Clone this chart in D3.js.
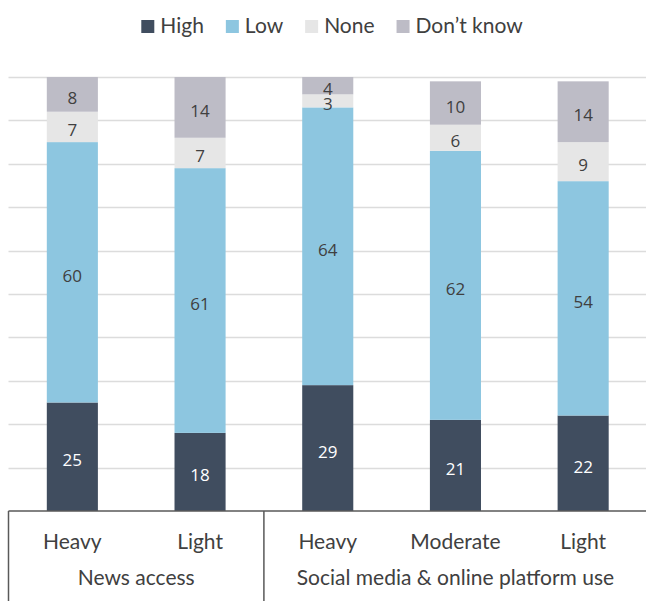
<!DOCTYPE html>
<html>
<head>
<meta charset="utf-8">
<script src="https://cdn.jsdelivr.net/npm/d3@7"></script>
<style>
  html, body { margin: 0; padding: 0; background: #fff; }
  svg { display: block; }
</style>
</head>
<body>
<svg id="chart" width="646" height="601"></svg>
<script>
// Categories along the x axis and the group each belongs to
const categories = ["Heavy", "Light", "Heavy ", "Moderate", "Light "];
const categoryLabels = ["Heavy", "Light", "Heavy", "Moderate", "Light"];
const groups = [
  { name: "News access", from: 0, to: 1 },
  { name: "Social media & online platform use", from: 2, to: 4 }
];

// Series values (percent), bottom to top of each stack
const seriesNames = ["High", "Low", "None", "Don\u2019t know"];
const high = [25, 18, 29, 21, 22];
const low = [60, 61, 64, 62, 54];
const none = [7, 7, 3, 6, 9];
const dontKnow = [8, 14, 4, 10, 14];
const gridTicks = [0, 10, 20, 30, 40, 50, 60, 70, 80, 90, 100];

const colors = ["#404d5f", "#8dc6e0", "#e6e6e6", "#bdbcc6"];
const labelColors = ["#ffffff", "#404040", "#404040", "#404040"];

const svg = d3.select("#chart");
const W = 646, H = 601;
const plot = { left: 8.5, right: 647, top: 77, bottom: 511 };

const rows = categories.map((c, i) => ({
  cat: c, High: high[i], Low: low[i], None: none[i], "Don\u2019t know": dontKnow[i]
}));
const stacked = d3.stack().keys(seriesNames)(rows);

const x = d3.scaleBand().domain(categories)
  .range([plot.left, plot.right]).paddingInner(0.6).paddingOuter(0.3);
const y = d3.scaleLinear().domain([0, 100]).range([plot.bottom, plot.top]);

// Horizontal gridlines
svg.append("g").selectAll("line").data(gridTicks.slice(1)).join("line")
  .attr("x1", plot.left).attr("x2", W)
  .attr("y1", d => Math.round(y(d)) + 0.5).attr("y2", d => Math.round(y(d)) + 0.5)
  .attr("stroke", "#dcdcdc").attr("stroke-width", 1.3);

// Stacked bars
const layers = svg.append("g").selectAll("g").data(stacked).join("g")
  .attr("fill", (d, i) => colors[i]);
layers.selectAll("rect").data(d => d).join("rect")
  .attr("x", d => x(d.data.cat))
  .attr("width", x.bandwidth())
  .attr("y", d => y(d[1]))
  .attr("height", d => y(d[0]) - y(d[1]));

// Value labels centred in each segment
const labelLayers = svg.append("g").selectAll("g").data(stacked).join("g")
  .attr("fill", (d, i) => labelColors[i]);
labelLayers.selectAll("text").data(d => d).join("text")
  .attr("x", d => x(d.data.cat) + x.bandwidth() / 2)
  .attr("y", d => (y(d[0]) + y(d[1])) / 2 + 3)
  .attr("text-anchor", "middle")
  .attr("dominant-baseline", "central")
  .attr("font-family", "'Open Sans', 'Noto Sans', sans-serif")
  .attr("font-size", 17)
  .text(d => d[1] - d[0]);

// Baseline axis
svg.append("line")
  .attr("x1", plot.left).attr("x2", W)
  .attr("y1", plot.bottom).attr("y2", plot.bottom)
  .attr("stroke", "#595959").attr("stroke-width", 1.5);

// Group separators below the axis
const step = x.step();
const boundaries = [plot.left, plot.left + 2 * step, plot.right];
svg.append("g").selectAll("line").data(boundaries).join("line")
  .attr("x1", d => d).attr("x2", d => d)
  .attr("y1", plot.bottom).attr("y2", H)
  .attr("stroke", "#595959").attr("stroke-width", 1.5);

// Category labels
svg.append("g").selectAll("text").data(categories).join("text")
  .attr("x", d => x(d) + x.bandwidth() / 2)
  .attr("y", 549)
  .attr("text-anchor", "middle")
  .attr("font-family", "Lato, sans-serif")
  .attr("font-size", 21)
  .attr("fill", "#404040")
  .text((d, i) => categoryLabels[i]);

// Group labels
svg.append("g").selectAll("text").data(groups).join("text")
  .attr("x", g => (x(categories[g.from]) + x(categories[g.to]) + x.bandwidth()) / 2)
  .attr("y", 585)
  .attr("text-anchor", "middle")
  .attr("font-family", "Lato, sans-serif")
  .attr("font-size", 21)
  .attr("fill", "#404040")
  .text(g => g.name);

// Legend
const legend = svg.append("g");
const items = legend.selectAll("g").data(seriesNames).join("g");
items.append("rect").attr("width", 13).attr("height", 13).attr("y", 20)
  .attr("fill", (d, i) => colors[i]);
items.append("text").attr("x", 19).attr("y", 33)
  .attr("font-family", "Lato, sans-serif").attr("font-size", 21)
  .attr("fill", "#404040").text(d => d);
let cx = 0;
const widths = [];
items.each(function () {
  const w = this.querySelector("text").getComputedTextLength();
  widths.push(19 + w);
});
const totalW = d3.sum(widths) + 22 * (widths.length - 1);
cx = 332 - totalW / 2;
items.attr("transform", (d, i) => {
  const tx = cx; cx += widths[i] + 22; return `translate(${tx},0)`;
});
</script>
</body>
</html>
